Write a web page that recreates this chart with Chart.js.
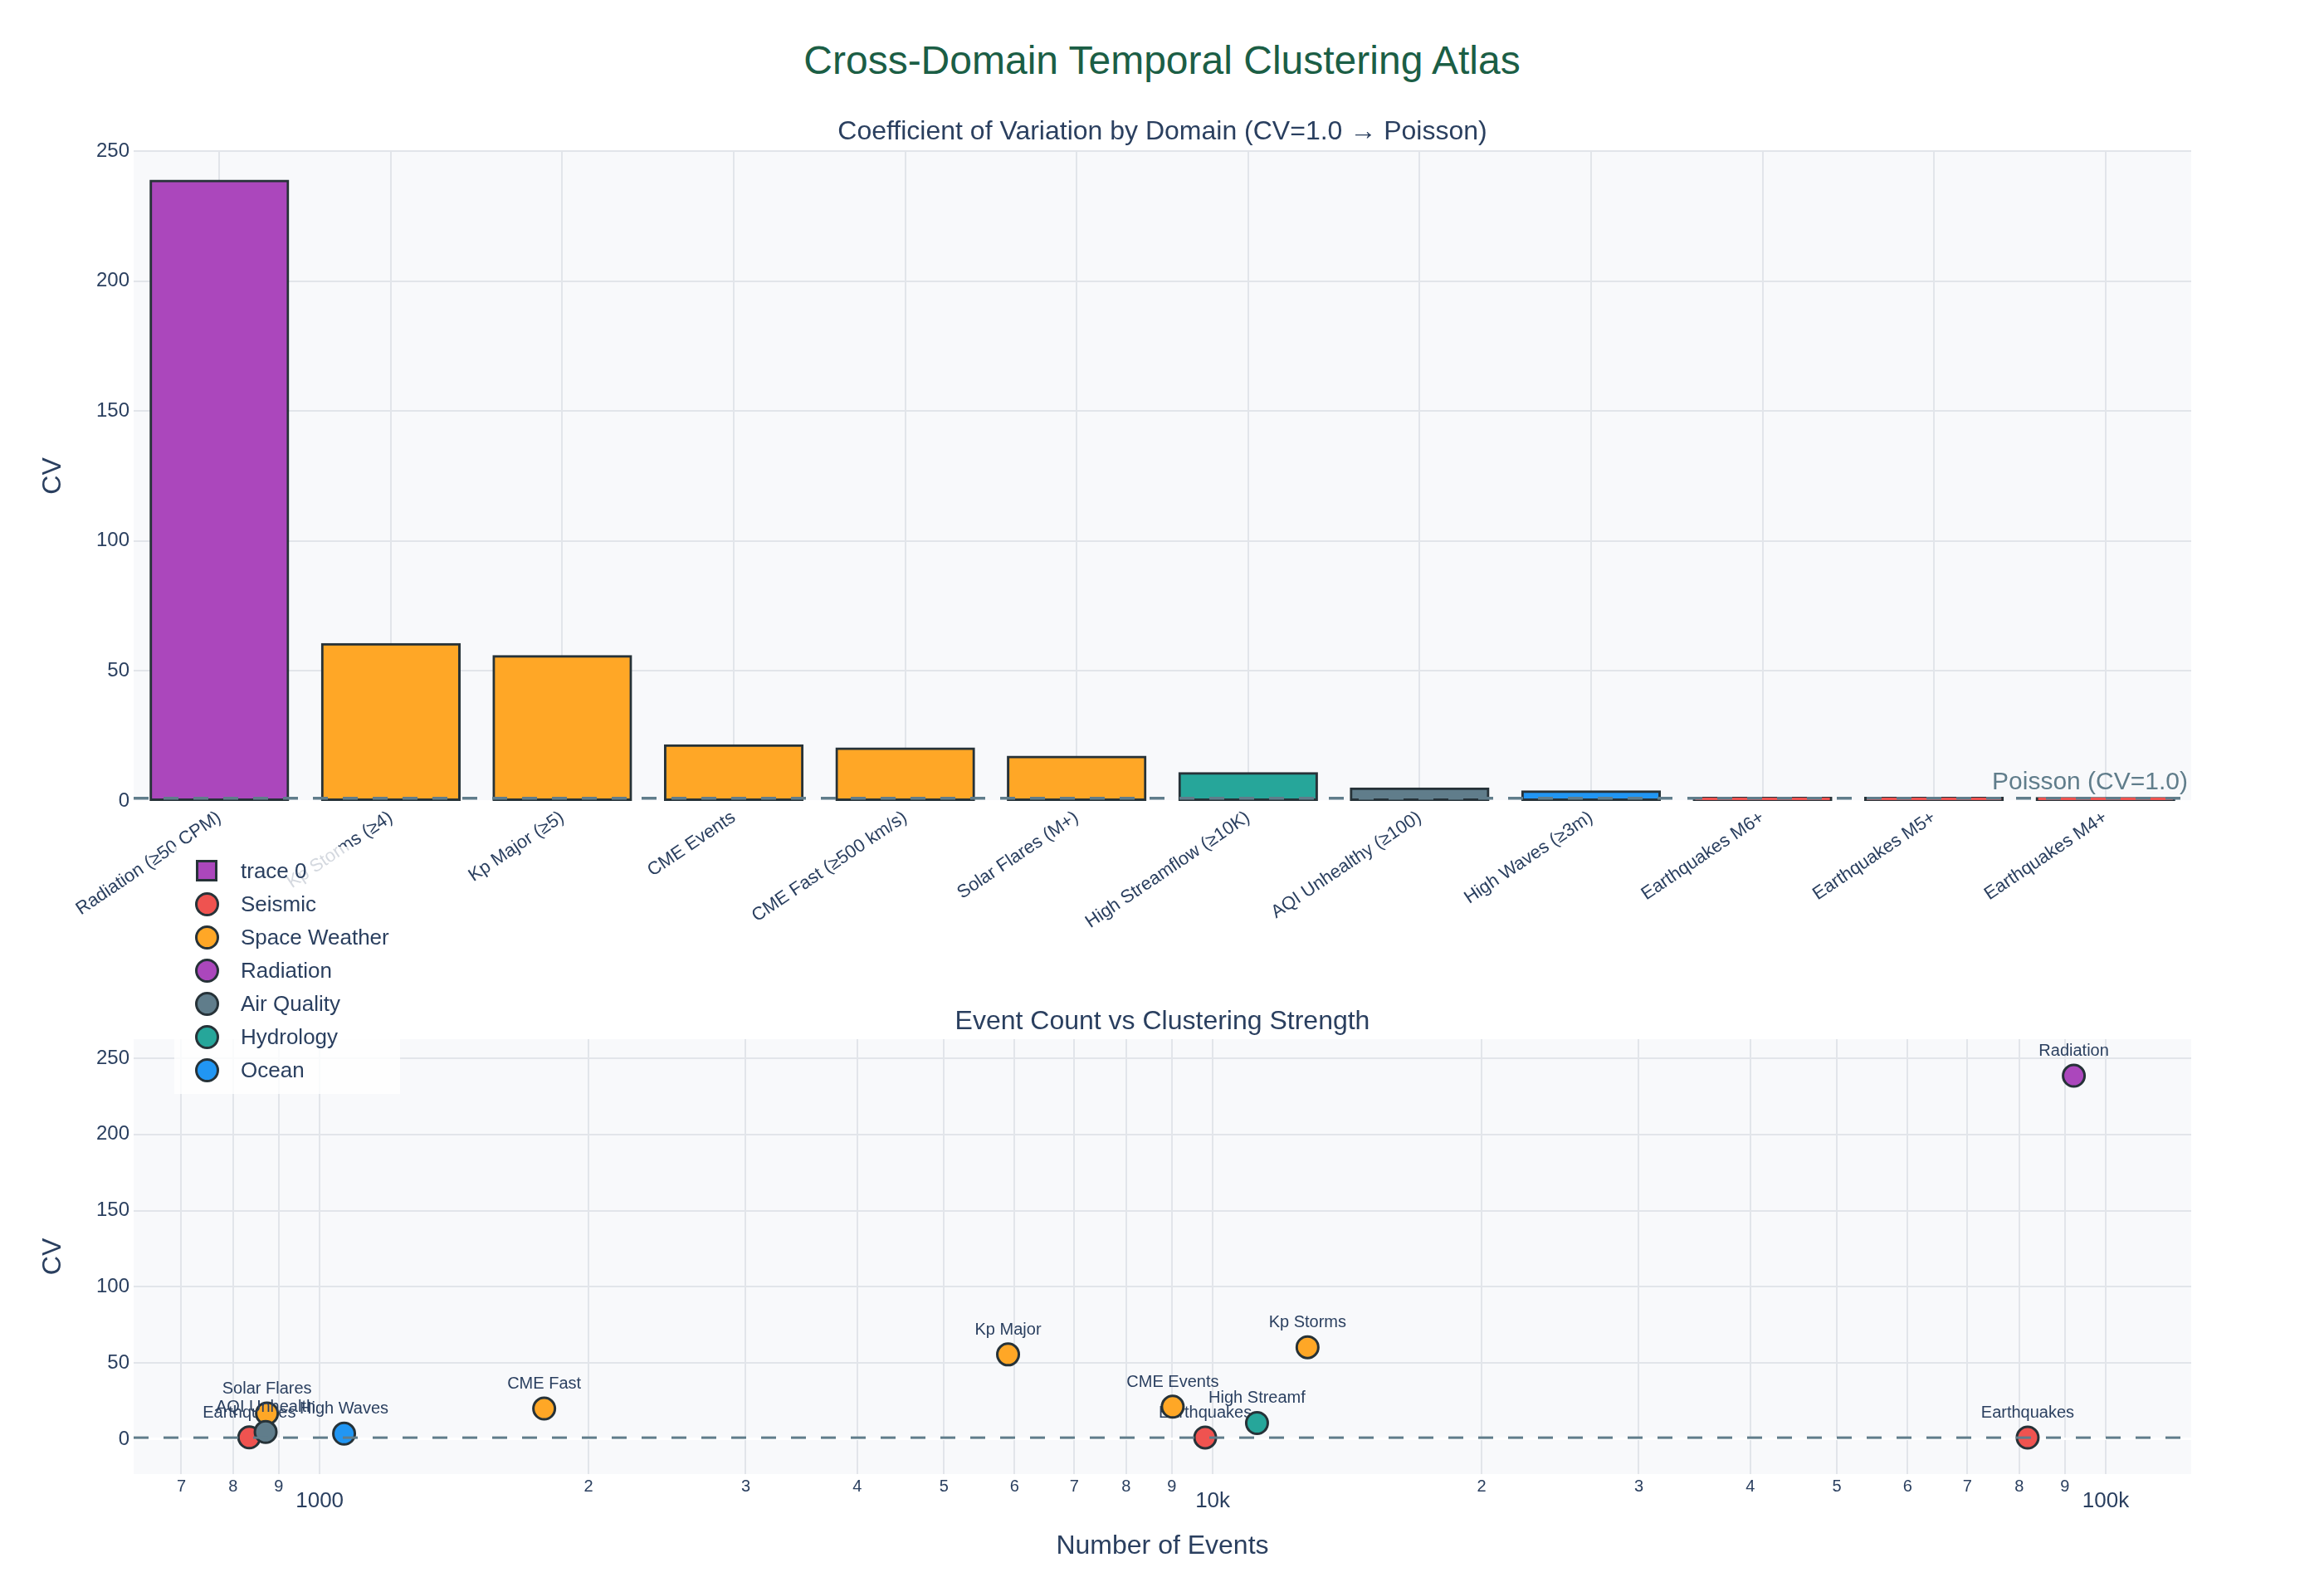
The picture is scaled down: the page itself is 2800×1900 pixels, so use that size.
<!DOCTYPE html>
<html>
<head>
<meta charset="utf-8">
<script src="https://cdn.jsdelivr.net/npm/chart.js@4.4.1/dist/chart.umd.min.js"></script>
<style>
  html, body { margin: 0; padding: 0; background: #ffffff; }
  #wrap { position: relative; width: 2800px; height: 1900px; overflow: hidden; font-family: 'Liberation Sans', Arial, sans-serif; }
  #mainTitle { position: absolute; left: 0; top: 43px; width: 2800px; height: 60px; line-height: 60px; text-align: center; font-size: 48px; color: #1b5e45; }
  #c1 { position: absolute; left: 0; top: 0; }
  #c2 { position: absolute; left: 0; top: 1190px; }
  #legend { position: absolute; left: 210px; top: 1020px; width: 272px; height: 298px; background: rgba(255,255,255,0.8); }
  .li { position: absolute; left: 0; height: 40px; width: 272px; }
  .li .sym { position: absolute; box-sizing: border-box; border: 3px solid #263238; }
  .li .txt { position: absolute; left: 80px; top: 0; height: 40px; line-height: 40px; font-size: 26px; color: #2a3f5f; white-space: nowrap; }
</style>
</head>
<body>
<div id="wrap">
  <div id="mainTitle">Cross-Domain Temporal Clustering Atlas</div>
  <canvas id="c1" width="2800" height="1190"></canvas>
  <canvas id="c2" width="2800" height="710"></canvas>
  <div id="legend"></div>
</div>
<script>
// ---------------- DATA ----------------
const categories = ['Radiation (≥50 CPM)', 'Kp Storms (≥4)', 'Kp Major (≥5)', 'CME Events', 'CME Fast (≥500 km/s)', 'Solar Flares (M+)', 'High Streamflow (≥10K)', 'AQI Unhealthy (≥100)', 'High Waves (≥3m)', 'Earthquakes M6+', 'Earthquakes M5+', 'Earthquakes M4+'];
const shortLabels = ['Radiation', 'Kp Storms', 'Kp Major', 'CME Events', 'CME Fast', 'Solar Flares', 'High Streamf', 'AQI Unhealth', 'High Waves', 'Earthquakes', 'Earthquakes', 'Earthquakes'];
const domains = ['Radiation', 'Space Weather', 'Space Weather', 'Space Weather', 'Space Weather', 'Space Weather', 'Hydrology', 'Air Quality', 'Ocean', 'Seismic', 'Seismic', 'Seismic'];
const cvValues = [238.5, 60.3, 55.6, 21.3, 20.1, 16.9, 10.6, 4.7, 3.6, 1.15, 1.1, 1.05];
const eventCounts = [92100, 12770, 5900, 9020, 1784, 873, 11210, 870, 1065, 834, 9808, 81760];
const domainOrder = ['Seismic', 'Space Weather', 'Radiation', 'Air Quality', 'Hydrology', 'Ocean'];
const domainColors = ['#EF5350', '#FFA726', '#AB47BC', '#607D8B', '#26A69A', '#2196F3'];
const poissonCV = 1.0;
const cvTickStep = 50;
const xTickValues = [700, 800, 900, 1000, 2000, 3000, 4000, 5000, 6000, 7000, 8000, 9000, 10000, 20000, 30000, 40000, 50000, 60000, 70000, 80000, 90000, 100000];
const xTickLabels = ['7', '8', '9', '1000', '2', '3', '4', '5', '6', '7', '8', '9', '10k', '2', '3', '4', '5', '6', '7', '8', '9', '100k'];
const xMajorTicks = [1000, 10000, 100000];

// ---------------- STYLE ----------------
const FONT = "'Liberation Sans', Arial, sans-serif";
const TXT = '#2a3f5f';
const GRID = '#e2e5ea';
const PLOT_BG = '#f8f9fb';
const EDGE = '#263238';
const REF = '#607D8B';
Chart.defaults.font.family = FONT;
Chart.defaults.color = TXT;

const colorOf = d => domainColors[domainOrder.indexOf(d)];

const bgPlugin = {
  id: 'plotBg',
  beforeDraw(chart) {
    const a = chart.chartArea, ctx = chart.ctx;
    ctx.save();
    ctx.fillStyle = PLOT_BG;
    ctx.fillRect(a.left, a.top, a.right - a.left, a.bottom - a.top);
    ctx.restore();
  }
};

function refLinePlugin(width, withText) {
  return {
    id: 'refLine',
    afterDatasetsDraw(chart) {
      const a = chart.chartArea, ctx = chart.ctx;
      const y = chart.scales.y.getPixelForValue(poissonCV);
      ctx.save();
      ctx.strokeStyle = REF;
      ctx.lineWidth = width;
      ctx.setLineDash([18, 18]);
      ctx.beginPath();
      ctx.moveTo(a.left, y);
      ctx.lineTo(a.right, y);
      ctx.stroke();
      ctx.setLineDash([]);
      if (withText) {
        ctx.fillStyle = REF;
        ctx.font = '30px ' + FONT;
        ctx.textAlign = 'right';
        ctx.textBaseline = 'alphabetic';
        ctx.fillText('Poisson (CV=1.0)', a.right - 4, y - 11);
      }
      ctx.restore();
    }
  };
}

const gridColor = ctx => (ctx.tick && ctx.tick.value === 0) ? '#ffffff' : GRID;
const gridWidth = ctx => (ctx.tick && ctx.tick.value === 0) ? 3 : 2;

// ---------------- TOP: BAR CHART ----------------
new Chart(document.getElementById('c1'), {
  type: 'bar',
  data: {
    labels: categories,
    datasets: [{
      label: 'trace 0',
      data: cvValues,
      backgroundColor: domains.map(colorOf),
      borderColor: EDGE,
      borderWidth: 3,
      borderSkipped: false,
      inflateAmount: 1.5,
      barPercentage: 0.8,
      categoryPercentage: 1.0
    }]
  },
  options: {
    responsive: false,
    animation: false,
    devicePixelRatio: 1,
    layout: { padding: { left: 0, right: 160, top: 139.8, bottom: 0 } },
    plugins: {
      legend: { display: false },
      tooltip: { enabled: false },
      title: {
        display: true,
        fullSize: false,
        text: 'Coefficient of Variation by Domain (CV=1.0 → Poisson)',
        color: TXT,
        font: { size: 32, weight: 'normal', family: FONT },
        padding: { top: 0, bottom: 3.8 }
      }
    },
    scales: {
      x: {
        offset: true,
        grid: { color: GRID, lineWidth: 2, offset: false, drawTicks: false },
        border: { display: false },
        ticks: { color: TXT, font: { size: 22 }, minRotation: 34, maxRotation: 34, autoSkip: false, padding: 7 },
        afterFit(s) { s.height = 225; }
      },
      y: {
        min: 0,
        max: 250,
        grid: { color: gridColor, lineWidth: gridWidth, drawTicks: false },
        border: { display: false },
        ticks: { stepSize: cvTickStep, includeBounds: false, color: TXT, font: { size: 24 }, padding: 5 },
        title: { display: true, text: 'CV', color: TXT, font: { size: 32 }, padding: { top: 45, bottom: 0 } },
        afterFit(s) { s.width = 161; }
      }
    }
  },
  plugins: [bgPlugin, refLinePlugin(3.5, true)]
});

// ---------------- BOTTOM: SCATTER ----------------
const scatterSets = domainOrder.map((d, k) => {
  const pts = [];
  domains.forEach((dd, i) => {
    if (dd === d) pts.push({ x: eventCounts[i], y: cvValues[i], name: shortLabels[i] });
  });
  return {
    label: d,
    data: pts,
    backgroundColor: domainColors[k],
    borderColor: EDGE,
    borderWidth: 3,
    pointRadius: 13,
    pointHoverRadius: 13,
    order: -k
  };
});

// labels drawn right after each dataset, so later traces' markers sit above earlier labels
const pointLabelPlugin = {
  id: 'pointLabels',
  afterDatasetDraw(chart, args) {
    const ctx = chart.ctx;
    const ds = chart.data.datasets[args.index];
    ctx.save();
    ctx.fillStyle = TXT;
    ctx.font = '20px ' + FONT;
    ctx.textAlign = 'center';
    ctx.textBaseline = 'alphabetic';
    args.meta.data.forEach((el, j) => {
      ctx.fillText(ds.data[j].name, el.x, el.y - 24);
    });
    ctx.restore();
  }
};

new Chart(document.getElementById('c2'), {
  type: 'scatter',
  data: { datasets: scatterSets },
  options: {
    responsive: false,
    animation: false,
    devicePixelRatio: 1,
    layout: { padding: { left: 0, right: 160, top: 21.8, bottom: 0 } },
    plugins: {
      legend: { display: false },
      tooltip: { enabled: false },
      title: {
        display: true,
        fullSize: false,
        text: 'Event Count vs Clustering Strength',
        color: TXT,
        font: { size: 32, weight: 'normal', family: FONT },
        padding: { top: 0, bottom: 1.8 }
      }
    },
    scales: {
      x: {
        type: 'logarithmic',
        min: 619,
        max: 124650,
        grid: { color: GRID, lineWidth: 2, drawTicks: false },
        border: { display: false },
        afterBuildTicks(s) { s.ticks = xTickValues.map(v => ({ value: v, major: xMajorTicks.includes(v) })); },
        ticks: {
          autoSkip: false,
          maxRotation: 0,
          minRotation: 0,
          padding: 3,
          color: TXT,
          font: ctx => (ctx.tick && xMajorTicks.includes(ctx.tick.value)) ? { size: 26, lineHeight: '58.8px', family: FONT } : { size: 20, lineHeight: 1.2, family: FONT },
          callback: (v, i) => xTickLabels[i]
        },
        title: { display: true, text: 'Number of Events', color: TXT, font: { size: 32 }, padding: { top: 0, bottom: 17.8 } },
        afterFit(s) { s.height = 124; }
      },
      y: {
        min: -22.9,
        max: 262.5,
        grid: { color: gridColor, lineWidth: gridWidth, drawTicks: false },
        border: { display: false },
        ticks: { stepSize: cvTickStep, includeBounds: false, color: TXT, font: { size: 24 }, padding: 5 },
        title: { display: true, text: 'CV', color: TXT, font: { size: 32 }, padding: { top: 45, bottom: 0 } },
        afterFit(s) { s.width = 161; }
      }
    }
  },
  plugins: [bgPlugin, pointLabelPlugin, refLinePlugin(3, false)]
});

// ---------------- LEGEND (HTML overlay) ----------------
const legend = document.getElementById('legend');
const legendItems = [{ name: 'trace 0', color: colorOf(domains[0]), square: true }]
  .concat(domainOrder.map((d, k) => ({ name: d, color: domainColors[k], square: false })));
legendItems.forEach((it, i) => {
  const row = document.createElement('div');
  row.className = 'li';
  row.style.top = (9 + i * 40) + 'px';
  const sym = document.createElement('div');
  sym.className = 'sym';
  sym.style.background = it.color;
  if (it.square) {
    sym.style.width = '26px'; sym.style.height = '26px';
    sym.style.left = (39 - 13) + 'px'; sym.style.top = (20 - 13) + 'px';
  } else {
    sym.style.width = '29px'; sym.style.height = '29px'; sym.style.borderRadius = '50%';
    sym.style.left = (39 - 14.5) + 'px'; sym.style.top = (20 - 14.5) + 'px';
  }
  const txt = document.createElement('div');
  txt.className = 'txt';
  txt.textContent = it.name;
  row.appendChild(sym);
  row.appendChild(txt);
  legend.appendChild(row);
});
</script>
</body>
</html>
